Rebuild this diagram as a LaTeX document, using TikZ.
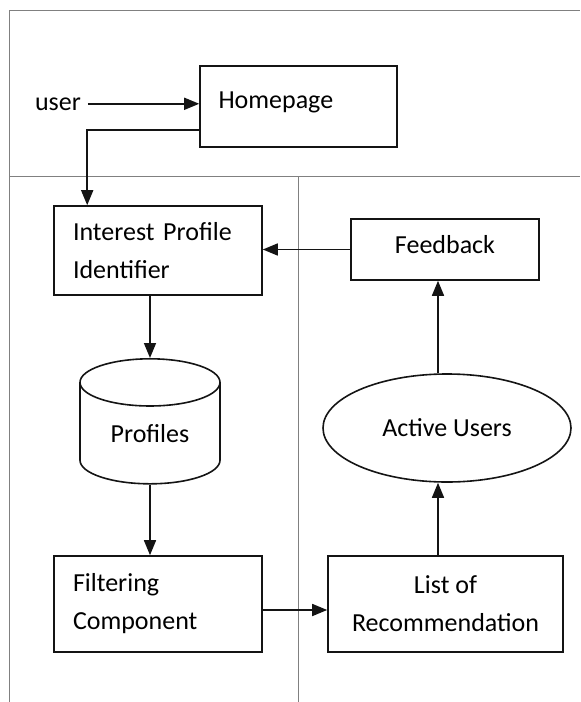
\documentclass[tikz,border=0pt]{standalone}
\usepackage{fontspec}
\setmainfont{Carlito}
\definecolor{frame_color}{RGB}{128, 128, 128}
\definecolor{line_color}{RGB}{20, 20, 20}
\usetikzlibrary{shapes.geometric, arrows.meta}

\begin{document}
\begin{tikzpicture}[x=0.5pt, y=-0.5pt, font=\fontsize{13}{19}\selectfont,
    box/.style={draw=line_color, line width=0.8pt, rectangle, inner sep=0pt},
    leftbox/.style={box, align=left, text width=85pt, inner xsep=9.5pt, minimum width=104pt},
    flow/.style={draw=line_color, line width=0.8pt, -{Triangle[length=7.5pt, width=6pt]}},
    lane/.style={draw=frame_color, line width=0.5pt}]
        \useasboundingbox (0,0) rectangle (580,702);
        % lanes
        \draw[lane] (9.5,702) -- (9.5,10.5) -- (580,10.5);
        \draw[lane] (9.5,176) -- (580,176);
        \draw[lane] (298,176) -- (298,702);
        % nodes
        \node[box, minimum width=98.5pt, text height=21pt, text depth=19.5pt,
              text width=80pt, inner xsep=9pt] (hp) at (298.5,106.5) {Homepage};
        \node[anchor=base west] (user) at (28,110) {user};
        \node[leftbox, minimum height=44.5pt] (ipi) at (158,250.5) {Interest Profile\\Identifier};
        \node[box, minimum width=94pt, text height=17pt, text depth=13.5pt] (fb) at (445,249.5) {Feedback};
        \node[cylinder, shape border rotate=90, draw=line_color, line width=0.8pt, aspect=0.6,
              minimum width=70pt, minimum height=62.5pt, inner sep=0pt] (prof) at (150,433.5) {Profiles};
        \node[ellipse, draw=line_color, line width=0.8pt, minimum width=124pt, minimum height=54pt,
              inner sep=0pt] (au) at (447,428) {Active Users};
        \node[leftbox, minimum height=48pt] (fc) at (158,604) {Filtering\\Component};
        \node[box, align=center, minimum width=117.5pt, minimum height=48pt] (lr) at (445.5,604) {List of\\Recommendation};
        \coordinate (axis) at (438,0);
        % connectors
        \draw[flow] (user.east) -- (user.east -| hp.west);
        \draw[flow] ([yshift=-11.75pt]hp.west) -| ([xshift=17pt]ipi.north west);
        \draw[flow] (fb.west) -- (fb.west -| ipi.east);
        \draw[flow] (ipi.south -| prof.north) -- (prof.north);
        \draw[flow] (prof.south) -- (prof.south |- fc.north);
        \draw[flow] ([yshift=-3pt]fc.east) -- ([yshift=-3pt]lr.west);
        \draw[flow] (lr.north -| axis) -- (au.south -| axis);
        \draw[flow] (au.north -| axis) -- (fb.south -| axis);
      \end{tikzpicture}
\end{document}
